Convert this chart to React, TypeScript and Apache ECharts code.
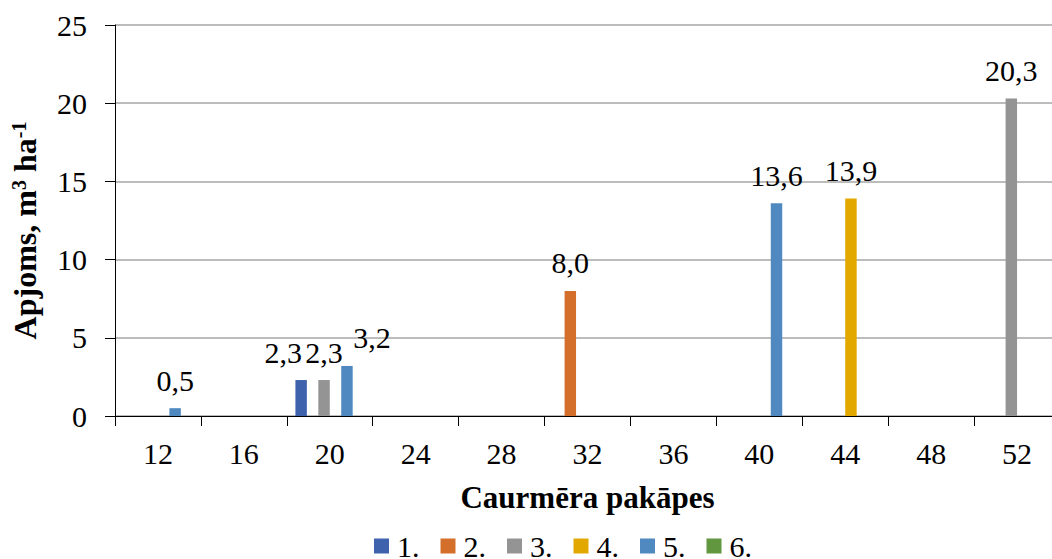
import React, { useEffect, useRef } from "react";
import * as echarts from "echarts";

// Diameter classes (cm)
const categories = ["12", "16", "20", "24", "28", "32", "36", "40", "44", "48", "52"];

// Volume by diameter class, m3 ha-1 (empty = no stand volume)
const series1 = [null, null, 2.3, null, null, null, null, null, null, null, null];
const series2 = [null, null, null, null, null, 8.0, null, null, null, null, null];
const series3 = [null, null, 2.3, null, null, null, null, null, null, null, 20.3];
const series4 = [null, null, null, null, null, null, null, null, 13.9, null, null];
const series5 = [0.5, null, 3.2, null, null, null, null, 13.6, null, null, null];
const series6 = [null, null, null, null, null, null, null, null, null, null, null];

const seriesNames = ["1.", "2.", "3.", "4.", "5.", "6."];
const seriesValues = [series1, series2, series3, series4, series5, series6];
const colors = ["#3E63AC", "#D46E2B", "#949494", "#E2A800", "#4F89C0", "#61983F"];

const yTicks = { min: 0, max: 25, interval: 5 };

// Horizontal nudges for labels that would otherwise collide (series index, category index)
const labelShift: Record<string, number> = { "0-2": -18, "4-2": 25 };

const FONT = "Liberation Serif";

export default function App() {
  const ref = useRef<HTMLDivElement>(null);

  useEffect(() => {
    const chart = echarts.init(ref.current!, null, { renderer: "svg" });

    const series = seriesNames.map((name, i) => ({
      name,
      type: "bar",
      barGap: "0%",
      barCategoryGap: "20%",
      itemStyle: { color: colors[i] },
      label: {
        show: true,
        position: "top",
        distance: 13,
        color: "#000",
        fontFamily: FONT,
        fontSize: 30,
        formatter: (p: any) => Number(p.value).toFixed(1).replace(".", ","),
      },
      data: seriesValues[i].map((v, j) => {
        if (v == null) return null;
        const dx = labelShift[`${i}-${j}`];
        return dx ? { value: v, label: { offset: [dx, 0] } } : v;
      }),
    }));

    chart.setOption({
      animation: false,
      backgroundColor: "#fff",
      textStyle: { fontFamily: FONT, color: "#000" },
      grid: { left: 115, right: 10, top: 25, bottom: 143, containLabel: false },
      legend: {
        data: seriesNames,
        left: 369,
        top: 526,
        icon: "rect",
        itemWidth: 15,
        itemHeight: 15,
        itemGap: 21,
        textStyle: { fontFamily: FONT, fontSize: 30, color: "#000", padding: [0, 0, 0, 3] },
      },
      xAxis: {
        type: "category",
        data: categories,
        name: "Caurmēra pakāpes",
        nameLocation: "middle",
        nameGap: 66,
        nameTextStyle: { fontFamily: FONT, fontSize: 31, fontWeight: "bold", color: "#000" },
        axisLine: { lineStyle: { color: "#000", width: 1 } },
        axisTick: { show: true, length: 10, lineStyle: { color: "#000" } },
        axisLabel: { margin: 22, fontFamily: FONT, fontSize: 30, color: "#000" },
      },
      yAxis: {
        type: "value",
        min: yTicks.min,
        max: yTicks.max,
        interval: yTicks.interval,
        name: "Apjoms, m{sup|3} ha{sup|-1}",
        nameLocation: "middle",
        nameGap: 74,
        nameTextStyle: {
          fontFamily: FONT,
          fontSize: 32,
          fontWeight: "bold",
          color: "#000",
          padding: [0, 20, 0, 0],
          rich: {
            sup: { fontFamily: FONT, fontSize: 20, fontWeight: "bold", color: "#000", verticalAlign: "top" },
          },
        },
        axisLine: { show: true, lineStyle: { color: "#000", width: 1 } },
        axisTick: { show: true, length: 10, lineStyle: { color: "#000" } },
        axisLabel: { margin: 28, fontFamily: FONT, fontSize: 30, color: "#000" },
        splitLine: { show: true, lineStyle: { color: "#A6A6A6", width: 1.5 } },
      },
      series,
    });

    return () => chart.dispose();
  }, []);

  return (
    <div
      style={{
        position: "fixed",
        left: 0,
        top: 0,
        width: 1052,
        height: 559,
        overflow: "hidden",
        background: "#fff",
      }}
    >
      <div ref={ref} style={{ width: 1070, height: 559 }} />
    </div>
  );
}
